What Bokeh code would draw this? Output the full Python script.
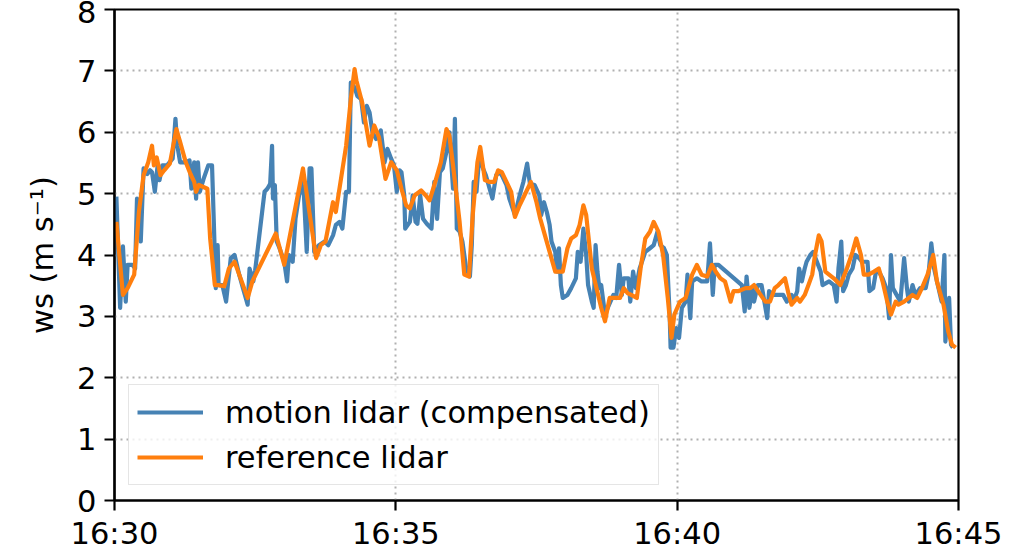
import pandas as pd
from bokeh.plotting import figure
from bokeh.models import Legend, LegendItem, FixedTicker, DatetimeTickFormatter, ColumnDataSource, Range1d
from bokeh.embed import file_html
from bokeh.resources import INLINE

DAY = "2021-06-01"
START = "16:30"
END = "16:45"
x_tick_labels = ["16:30", "16:35", "16:40", "16:45"]
y_ticks = [0, 1, 2, 3, 4, 5, 6, 7, 8]

# seconds after 16:30:00
motion_t = [2, 6, 9, 12, 14, 19, 22, 24, 28, 31, 35, 38, 40, 43, 46, 48, 51, 56, 62, 65,
            67, 70, 76, 80, 82, 85, 87, 89, 91, 95, 100, 104, 106, 108, 110, 111, 115, 119, 124, 128,
            133, 137, 142, 144, 148, 150, 160, 163, 166, 168, 169, 171, 173, 176, 181, 184, 186, 190, 193, 199,
            202, 205, 208, 210, 213, 218, 224, 228, 233, 236, 240, 243, 247, 250, 252, 256, 259, 263, 266, 269,
            272, 275, 279, 284, 288, 291, 295, 298, 301, 304, 306, 309, 310, 315, 318, 321, 323, 326, 329, 333,
            338, 341, 344, 347, 350, 354, 357, 361, 363, 365, 368, 371, 375, 379, 381, 383, 386, 389, 393, 396,
            400, 403, 407, 411, 414, 418, 421, 427, 432, 436, 440, 443, 448, 453, 455, 458, 461, 464, 466, 470,
            472, 474, 476, 478, 483, 487, 492, 494, 497, 500, 503, 505, 509, 511, 513, 515, 517, 519, 523, 526,
            532, 535, 538, 541, 543, 548, 550, 553, 556, 560, 566, 571, 575, 579, 582, 586, 589, 592, 593, 596,
            599, 602, 605, 609, 611, 614, 616, 621, 626, 632, 635, 638, 640, 644, 669, 672, 674, 677, 680, 682,
            686, 690, 693, 696, 698, 703, 708, 713, 717, 722, 724, 728, 730, 733, 736, 738, 742, 745, 749, 753,
            755, 762, 767, 770, 772, 775, 777, 780, 783, 787, 790, 794, 797, 803, 805, 809, 812, 815, 819, 823,
            826, 828, 830, 834, 838, 842, 845, 847, 851, 854, 859, 865, 868, 871, 874, 877, 882, 885, 886, 890,
            892, 894]
motion_ws = [4.95, 3.14, 4.14, 3.24, 3.84, 3.84, 3.78, 4.92, 4.22, 5.41, 5.32, 5.38, 5.35, 5.03, 5.46, 5.22, 5.46, 5.46, 5.57, 6.22,
             5.78, 5.51, 5.51, 5.54, 5.08, 5.51, 4.92, 5.51, 5.03, 5.24, 5.46, 5.46, 4.49, 3.46, 4.16, 3.51, 3.51, 3.24, 3.95, 4.00,
             3.68, 3.46, 3.19, 3.78, 3.57, 3.75, 5.03, 5.08, 5.16, 5.78, 4.92, 5.14, 4.22, 4.11, 3.89, 3.57, 4.00, 3.89, 4.59, 5.19,
             4.97, 4.05, 5.41, 5.41, 4.05, 4.16, 4.22, 4.16, 4.32, 4.49, 4.54, 4.43, 5.03, 5.03, 6.81, 6.73, 6.59, 6.54, 6.16, 6.43,
             6.32, 6.00, 5.89, 6.03, 5.51, 5.73, 5.57, 5.46, 5.03, 5.38, 5.35, 4.97, 4.43, 4.54, 4.97, 4.54, 4.51, 4.97, 4.59, 4.51,
             4.43, 5.19, 4.59, 5.35, 5.41, 5.68, 6.00, 5.08, 6.22, 4.43, 4.38, 4.22, 3.78, 3.65, 4.16, 5.19, 5.03, 5.62, 5.41, 5.30,
             5.08, 4.92, 5.30, 5.35, 5.27, 5.14, 4.92, 4.65, 4.97, 5.19, 5.49, 5.16, 5.14, 4.97, 4.65, 4.86, 4.70, 4.49, 4.22, 4.05,
             3.73, 4.11, 3.51, 3.30, 3.35, 3.46, 3.62, 4.05, 3.89, 4.43, 4.00, 3.51, 3.24, 3.14, 4.16, 3.73, 3.46, 3.51, 3.03, 3.14,
             3.35, 3.30, 3.84, 3.35, 3.62, 3.62, 3.24, 3.73, 3.46, 3.78, 4.05, 4.11, 4.16, 4.38, 4.16, 4.11, 4.00, 3.03, 2.49, 2.49,
             2.81, 2.65, 3.14, 3.24, 3.68, 2.97, 3.57, 3.62, 3.57, 3.57, 4.19, 3.35, 3.84, 3.84, 3.51, 3.08, 3.65, 3.14, 3.46, 3.24,
             3.51, 3.51, 3.24, 2.97, 3.41, 3.35, 3.35, 3.35, 3.24, 3.35, 3.24, 3.41, 3.78, 3.57, 3.78, 3.89, 4.00, 4.05, 3.89, 3.73,
             3.51, 3.57, 3.51, 3.24, 3.78, 4.22, 3.41, 3.51, 3.68, 3.78, 4.00, 3.95, 3.89, 3.89, 3.41, 3.46, 3.73, 3.73, 3.62, 3.46,
             2.97, 4.00, 3.46, 3.35, 3.24, 3.95, 3.46, 3.24, 3.51, 3.35, 3.46, 3.46, 3.68, 4.19, 3.78, 3.57, 3.24, 4.00, 2.59, 3.30,
             2.54, 2.49]

reference_t = [2, 9, 14, 21, 26, 31, 36, 40, 42, 45, 49, 53, 59, 66, 70, 76, 81, 85, 87, 90,
               99, 102, 107, 111, 117, 122, 128, 133, 142, 147, 172, 181, 201, 215, 220, 225, 233, 236, 241, 247,
               252, 256, 258, 264, 272, 277, 282, 289, 295, 301, 306, 311, 315, 320, 327, 332, 336, 341, 348, 354,
               357, 361, 368, 373, 378, 382, 387, 390, 395, 400, 405, 409, 413, 418, 423, 427, 432, 439, 444, 450,
               454, 459, 464, 470, 478, 483, 487, 492, 496, 500, 503, 509, 514, 519, 523, 528, 534, 539, 543, 547,
               551, 557, 561, 566, 571, 575, 580, 585, 590, 594, 597, 603, 609, 616, 621, 626, 632, 637, 641, 646,
               651, 657, 660, 665, 673, 678, 682, 689, 694, 699, 704, 708, 715, 719, 722, 728, 731, 736, 740, 744,
               747, 751, 754, 758, 767, 774, 781, 787, 791, 796, 799, 804, 810, 815, 819, 824, 828, 833, 836, 842,
               847, 851, 856, 861, 867, 873, 877, 884, 889, 893, 897]
reference_ws = [4.54, 3.35, 3.46, 3.68, 4.70, 5.30, 5.51, 5.78, 5.46, 5.59, 5.30, 5.38, 5.49, 6.05, 5.84, 5.51, 5.32, 5.19, 5.03, 5.14,
                5.08, 4.27, 3.51, 3.51, 3.49, 3.78, 3.89, 3.68, 3.30, 3.57, 4.35, 3.84, 5.41, 3.95, 4.16, 4.22, 4.86, 4.70, 5.19, 5.78,
                6.54, 7.03, 6.84, 6.49, 5.78, 6.11, 5.92, 5.24, 5.51, 5.38, 5.08, 4.81, 4.76, 4.97, 5.05, 4.97, 4.89, 5.14, 5.51, 6.05,
                5.95, 5.46, 4.54, 3.68, 3.65, 4.65, 5.51, 5.76, 5.22, 5.19, 5.19, 5.38, 5.35, 5.19, 5.03, 4.62, 4.81, 5.03, 5.19, 4.86,
                4.59, 4.32, 4.05, 3.73, 3.73, 4.11, 4.27, 4.32, 4.49, 4.81, 4.65, 3.78, 3.46, 3.14, 2.92, 3.30, 3.30, 3.30, 3.46, 3.38,
                3.35, 3.30, 3.78, 4.27, 4.38, 4.54, 4.38, 4.00, 3.30, 2.65, 3.03, 3.24, 3.30, 3.68, 3.84, 3.68, 3.65, 3.84, 3.73, 3.62,
                3.57, 3.24, 3.41, 3.41, 3.46, 3.46, 3.51, 3.35, 3.24, 3.24, 3.46, 3.51, 3.62, 3.35, 3.19, 3.30, 3.24, 3.35, 3.51, 3.68,
                4.00, 4.32, 4.22, 3.73, 3.62, 3.51, 3.78, 4.05, 4.27, 4.00, 3.68, 3.68, 3.73, 3.78, 3.57, 3.24, 3.03, 3.24, 3.19, 3.24,
                3.30, 3.35, 3.30, 3.46, 3.68, 4.00, 3.57, 3.19, 2.76, 2.54, 2.49]

FONT = "DejaVu Sans"
FS = "30.5px"

t0 = pd.Timestamp(f"{DAY} {START}")
t1 = pd.Timestamp(f"{DAY} {END}")


def to_time(secs):
    return [t0 + pd.Timedelta(seconds=s) for s in secs]


src_m = ColumnDataSource(dict(t=to_time(motion_t), ws=motion_ws))
src_r = ColumnDataSource(dict(t=to_time(reference_t), ws=reference_ws))

p = figure(width=1017, height=553, x_axis_type="datetime",
           x_range=Range1d(t0, t1), y_range=Range1d(0, 8),
           output_backend="svg", toolbar_location=None,
           min_border_left=114, min_border_right=59, min_border_top=9, min_border_bottom=51)

r_m = p.line("t", "ws", source=src_m, line_color="#4682b4", line_width=4.2, line_join="round")
r_r = p.line("t", "ws", source=src_r, line_color="#ff7f0e", line_width=4.2, line_join="round")

tick_ms = [pd.Timestamp(f"{DAY} {lab}").value / 1e6 for lab in x_tick_labels]
p.xaxis.ticker = FixedTicker(ticks=tick_ms)
fmt = "%H:%M"
p.xaxis.formatter = DatetimeTickFormatter(seconds=fmt, minsec=fmt, minutes=fmt, hourmin=fmt, hours=fmt)
p.yaxis.ticker = FixedTicker(ticks=y_ticks)

for ax in [p.xaxis[0], p.yaxis[0]]:
    ax.axis_line_color = "black"
    ax.axis_line_width = 2.2
    ax.major_tick_line_color = "black"
    ax.major_tick_line_width = 2.2
    ax.major_tick_out = 10
    ax.major_tick_in = 0
    ax.minor_tick_out = 0
    ax.minor_tick_in = 0
    ax.major_label_text_font = FONT
    ax.major_label_text_font_size = FS
    ax.major_label_text_color = "black"

p.xaxis.major_label_standoff = 5
p.yaxis.major_label_standoff = 8

p.yaxis.axis_label = "ws (m s\u207b\u00b9)"
p.yaxis.axis_label_text_font = FONT
p.yaxis.axis_label_text_font_size = FS
p.yaxis.axis_label_text_font_style = "normal"
p.yaxis.axis_label_text_color = "black"
p.yaxis.axis_label_standoff = 14

for g in [p.xgrid[0], p.ygrid[0]]:
    g.grid_line_color = "#b0b0b0"
    g.grid_line_width = 2
    g.grid_line_dash = "2 4"

p.outline_line_color = "black"
p.outline_line_width = 2.2
p.outline_line_alpha = 1.0
p.background_fill_color = "white"
p.border_fill_color = "white"

legend = Legend(items=[LegendItem(label="motion lidar (compensated)", renderers=[r_m]),
                       LegendItem(label="reference lidar", renderers=[r_r])],
                location=(14, 15), label_text_font=FONT, label_text_font_size=FS,
                label_text_color="black",
                glyph_width=66, glyph_height=38, label_height=38, label_standoff=22,
                spacing=7, padding=8, margin=0,
                border_line_color="#cccccc", border_line_width=1.5,
                background_fill_color="white", background_fill_alpha=0.8)
p.add_layout(legend)

open("out.html", "w").write(file_html(p, INLINE))
